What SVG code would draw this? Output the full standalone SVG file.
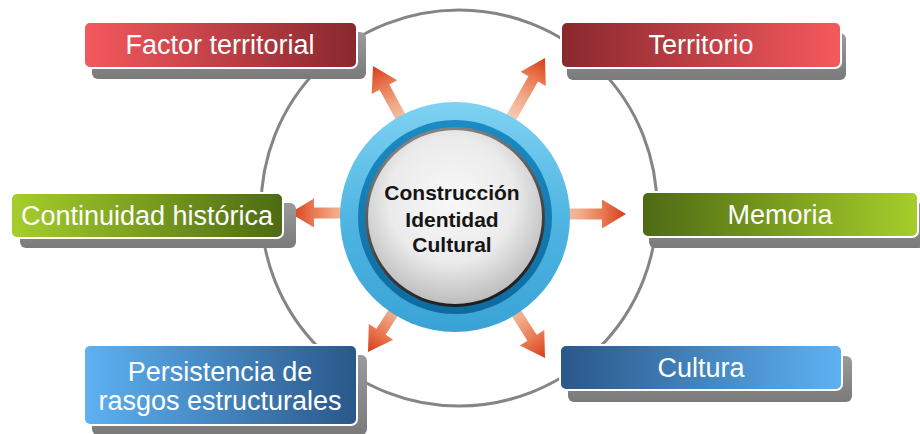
<svg xmlns="http://www.w3.org/2000/svg" xmlns:xlink="http://www.w3.org/1999/xlink" width="920" height="434" viewBox="0 0 920 434">
<defs>
<style>
.box{stroke:#fff;stroke-width:2}
.sh{fill:url(#gs)}
.lbl{font-family:"Liberation Sans",Arial,sans-serif;font-size:27px;fill:#fff;text-anchor:middle}
.ctr{font-family:"Liberation Sans",Arial,sans-serif;font-size:21px;font-weight:bold;fill:#151515;text-anchor:middle}
</style>
<linearGradient id="redL" x1="0" y1="0" x2="1" y2="0"><stop offset="0" stop-color="#f5595d"/><stop offset="1" stop-color="#88282e"/></linearGradient>
<linearGradient id="redR" x1="0" y1="0" x2="1" y2="0"><stop offset="0" stop-color="#88282e"/><stop offset="1" stop-color="#f5595d"/></linearGradient>
<linearGradient id="grnL" x1="0" y1="0" x2="1" y2="0"><stop offset="0" stop-color="#a6ce2b"/><stop offset="1" stop-color="#4d6a14"/></linearGradient>
<linearGradient id="grnR" x1="0" y1="0" x2="1" y2="0"><stop offset="0" stop-color="#4d6a14"/><stop offset="1" stop-color="#a6ce2b"/></linearGradient>
<linearGradient id="bluL" x1="0" y1="0" x2="1" y2="0"><stop offset="0" stop-color="#5db2f3"/><stop offset="1" stop-color="#2a5789"/></linearGradient>
<linearGradient id="bluR" x1="0" y1="0" x2="1" y2="0"><stop offset="0" stop-color="#2a5789"/><stop offset="1" stop-color="#5db2f3"/></linearGradient>
<linearGradient id="gs" x1="0" y1="0" x2="0" y2="1"><stop offset="0" stop-color="#9a9a9a"/><stop offset="1" stop-color="#7a7a7a"/></linearGradient>
<linearGradient id="ag" x1="0" y1="0" x2="1" y2="0"><stop offset="0" stop-color="#f7dccd"/><stop offset="0.45" stop-color="#f0a886"/><stop offset="0.72" stop-color="#e8774f"/><stop offset="1" stop-color="#d63c1a"/></linearGradient>
<linearGradient id="gOuter" x1="0" y1="0" x2="0" y2="1"><stop offset="0" stop-color="#7fd2f2"/><stop offset="0.5" stop-color="#4fb6e3"/><stop offset="1" stop-color="#3aa3d6"/></linearGradient>
<linearGradient id="gMid" x1="0" y1="0" x2="0" y2="1"><stop offset="0" stop-color="#1b8cc4"/><stop offset="1" stop-color="#0f6a9e"/></linearGradient>
<linearGradient id="gEdge" x1="0.2" y1="0" x2="0.5" y2="1"><stop offset="0" stop-color="#8a8a8a"/><stop offset="1" stop-color="#1e1e1e"/></linearGradient>
<radialGradient id="gDisk" cx="0.48" cy="0.4" r="0.6"><stop offset="0" stop-color="#f8f8f8"/><stop offset="0.6" stop-color="#ebebeb"/><stop offset="1" stop-color="#bdbdbd"/></radialGradient>
<path id="arr" d="M-80,-5.5 L-24,-5.5 L-24,-14.5 L0,0 L-24,14.5 L-24,5.5 L-80,5.5 Z" fill="url(#ag)"/>
</defs>
<rect width="920" height="434" fill="#fff"/>
<g id="connectors">
<circle cx="459" cy="208" r="198" fill="none" stroke="#858585" stroke-width="3"/>
<use xlink:href="#arr" transform="translate(373,66) rotate(-118.5)"/>
<use xlink:href="#arr" transform="translate(545,58) rotate(-60.5)"/>
<use xlink:href="#arr" transform="translate(290,213) rotate(180)"/>
<use xlink:href="#arr" transform="translate(626,214)"/>
<use xlink:href="#arr" transform="translate(368,352) rotate(122.8)"/>
<use xlink:href="#arr" transform="translate(545,358) rotate(57.4)"/>
</g>
<g id="center">
<circle cx="455" cy="217" r="115" fill="url(#gOuter)"/>
<circle cx="455" cy="217" r="97" fill="url(#gMid)"/>
<circle cx="455" cy="217" r="90" fill="url(#gEdge)"/>
<circle cx="455" cy="217" r="87" fill="url(#gDisk)"/>
<text class="ctr" x="452" y="200">Construcción</text>
<text class="ctr" x="452" y="226.5">Identidad</text>
<text class="ctr" x="452" y="252">Cultural</text>
</g>
<g id="factor-territorial">
<rect class="sh" x="92" y="32" width="274" height="47" rx="6"/>
<rect class="box" x="84" y="22" width="273" height="46" rx="6" fill="url(#redL)"/>
<text class="lbl" x="220" y="54">Factor territorial</text>
</g>
<g id="territorio">
<rect class="sh" x="567" y="33" width="279" height="47" rx="6"/>
<rect class="box" x="561" y="22" width="280" height="46" rx="6" fill="url(#redR)"/>
<text class="lbl" x="701" y="54">Territorio</text>
</g>
<g id="continuidad-historica">
<rect class="sh" x="20" y="203" width="276" height="45" rx="6"/>
<rect class="box" x="11" y="193" width="272" height="45" rx="6" fill="url(#grnL)"/>
<text class="lbl" x="147" y="224.5">Continuidad histórica</text>
</g>
<g id="memoria">
<rect class="sh" x="649" y="203" width="275" height="45" rx="6"/>
<rect class="box" x="642" y="192" width="276" height="45" rx="6" fill="url(#grnR)"/>
<text class="lbl" x="780" y="223.5">Memoria</text>
</g>
<g id="persistencia">
<rect class="sh" x="92" y="355" width="275" height="80" rx="6"/>
<rect class="box" x="84" y="345" width="273" height="80" rx="6" fill="url(#bluL)"/>
<text class="lbl" x="220" y="381">Persistencia de</text>
<text class="lbl" x="220" y="410">rasgos estructurales</text>
</g>
<g id="cultura">
<rect class="sh" x="568" y="356" width="284" height="46" rx="6"/>
<rect class="box" x="560" y="345" width="282" height="45" rx="6" fill="url(#bluR)"/>
<text class="lbl" x="701" y="377">Cultura</text>
</g>
</svg>
